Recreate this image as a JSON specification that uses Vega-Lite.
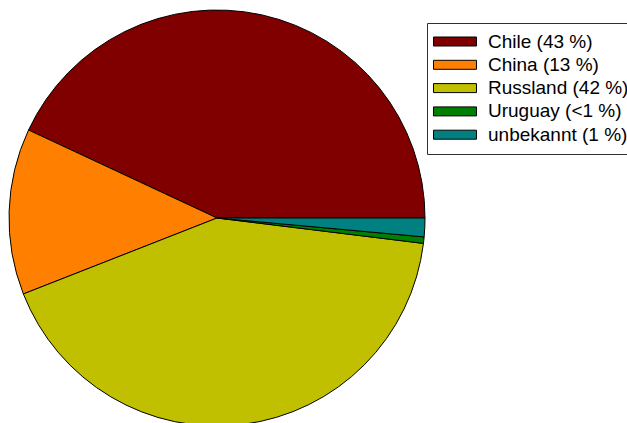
{
  "$schema": "https://vega.github.io/schema/vega-lite/v6.json",
  "width": 434,
  "height": 436,
  "padding": {"left": 0, "top": 0, "right": 193, "bottom": 0},
  "autosize": "none",
  "background": "white",
  "config": {"view": {"stroke": null}},
  "data": {"values": [
    {"land": "Chile (43 %)", "rank": 1, "anteil": 43.05},
    {"land": "China (13 %)", "rank": 2, "anteil": 12.9},
    {"land": "Russland (42 %)", "rank": 3, "anteil": 42.1},
    {"land": "Uruguay (<1 %)", "rank": 4, "anteil": 0.5},
    {"land": "unbekannt (1 %)", "rank": 5, "anteil": 1.45}
  ]},
  "mark": {"type": "arc", "outerRadius": 208, "stroke": "black", "strokeWidth": 1},
  "encoding": {
    "theta": {"field": "anteil", "type": "quantitative", "stack": true, "scale": {"range": [1.5708, -4.7124]}},
    "order": {"field": "rank", "type": "quantitative"},
    "color": {
      "field": "land", "type": "nominal",
      "sort": ["Chile (43 %)", "China (13 %)", "Russland (42 %)", "Uruguay (<1 %)", "unbekannt (1 %)"],
      "scale": {"domain": ["Chile (43 %)", "China (13 %)", "Russland (42 %)", "Uruguay (<1 %)", "unbekannt (1 %)"],
                "range": ["#800000", "#ff8000", "#c0c000", "#008000", "#008080"]},
      "legend": {
        "title": null,
        "orient": "none",
        "legendX": 427,
        "legendY": 23,
        "padding": 9,
        "strokeColor": "#303030",
        "fillColor": "white",
        "symbolType": "M-1.333,-0.5H3.444V0.5H-1.333Z",
        "symbolSize": 324,
        "symbolStrokeColor": "black",
        "symbolStrokeWidth": 1,
        "symbolOpacity": 1,
        "labelFont": "Liberation Sans",
        "labelFontSize": 19,
        "labelColor": "black",
        "labelOffset": 33,
        "labelLimit": 250,
        "rowPadding": 3.3
      }
    }
  }
}
